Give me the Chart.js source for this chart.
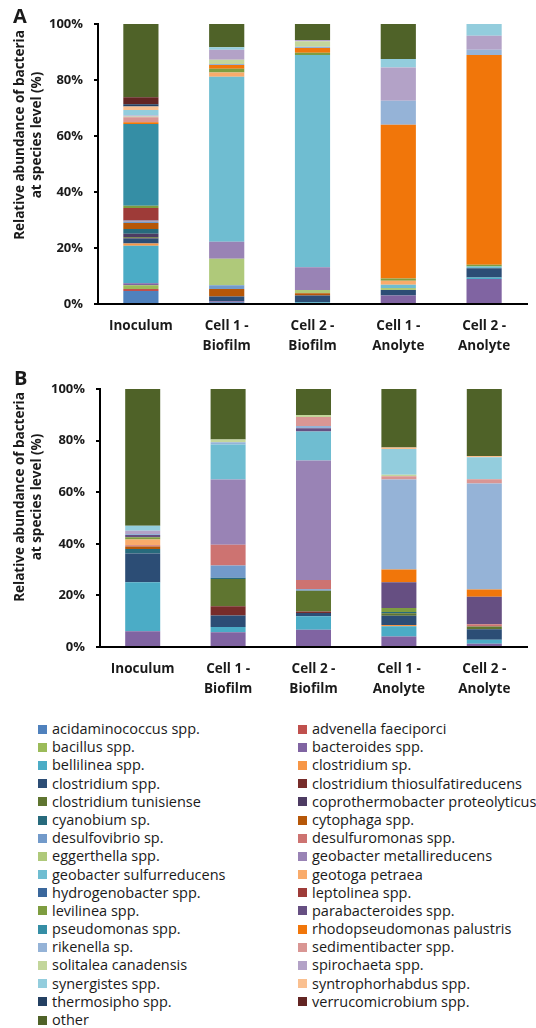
<!DOCTYPE html>
<html>
<head>
<meta charset="utf-8">
<script src="https://cdn.jsdelivr.net/npm/chart.js@4"></script>
<style>
  html, body { margin: 0; padding: 0; background: #fff; }
  body { width: 536px; height: 1028px; position: relative; overflow: hidden; font-family: "Open Sans", "Liberation Sans", sans-serif; color: #1a1a1a; }
  .panel { position: absolute; left: 0; width: 536px; }
  .tag { position: absolute; font-weight: 700; font-size: 20px; line-height: 20px; }
  .ytitle { position: absolute; width: 300px; height: 34px; line-height: 17px; text-align: center; font-weight: 700; font-size: 13.5px; transform: rotate(-90deg); white-space: nowrap; }
  .legend { position: absolute; top: 720px; font-size: 14.5px; }
  .legend .row { height: 18.2px; line-height: 18.2px; white-space: nowrap; position: relative; padding-left: 14px; }
  .legend .sw { position: absolute; left: 0; top: 4.6px; width: 9px; height: 9px; }
</style>
</head>
<body>
<div class="panel" style="top:0;height:360px"><canvas id="chartA" width="536" height="360"></canvas></div>
<div class="panel" style="top:360px;height:340px"><canvas id="chartB" width="536" height="340"></canvas></div>
<div class="tag" style="left:13px;top:6px">A</div>
<div class="tag" style="left:14px;top:368px">B</div>
<div class="ytitle" style="left:-122px;top:118px">Relative abundance of bacteria<br>at species level (%)</div>
<div class="ytitle" style="left:-122px;top:480px">Relative abundance of bacteria<br>at species level (%)</div>
<div class="legend" id="legLeft" style="left:38px"></div>
<div class="legend" id="legRight" style="left:298px"></div>

<script>
// Sample groups on the x axis
const categories = ['Inoculum', ['Cell 1 -', 'Biofilm'], ['Cell 2 -', 'Biofilm'], ['Cell 1 -', 'Anolyte'], ['Cell 2 -', 'Anolyte']];

// Taxa, in stacking order (bottom to top)
const species = [
  'acidaminococcus spp.', 'advenella faeciporci', 'bacillus spp.', 'bacteroides spp.',
  'bellilinea spp.', 'clostridium sp.', 'clostridium spp.', 'clostridium thiosulfatireducens',
  'clostridium tunisiense', 'coprothermobacter proteolyticus', 'cyanobium sp.', 'cytophaga spp.',
  'desulfovibrio sp.', 'desulfuromonas spp.', 'eggerthella spp.', 'geobacter metallireducens',
  'geobacter sulfurreducens', 'geotoga petraea', 'hydrogenobacter spp.', 'leptolinea spp.',
  'levilinea spp.', 'parabacteroides spp.', 'pseudomonas spp.', 'rhodopseudomonas palustris',
  'rikenella sp.', 'sedimentibacter spp.', 'solitalea canadensis', 'spirochaeta spp.',
  'synergistes spp.', 'syntrophorhabdus spp.', 'thermosipho spp.', 'verrucomicrobium spp.', 'other'
];

const speciesColors = [
  '#4F81BD', '#C0504D', '#9BBB59', '#8064A2',
  '#4BACC6', '#F79646', '#2C4D75', '#772C2A',
  '#5F7530', '#4D3B62', '#276A7C', '#B65708',
  '#729ACA', '#CD7371', '#AFC97A', '#9983B5',
  '#6FBDD1', '#F9AB6B', '#3A679C', '#9E3B38',
  '#7E9D40', '#664F82', '#358EA5', '#F1760A',
  '#95B3D7', '#D99694', '#C3D69B', '#B3A2C7',
  '#93CDDD', '#FAC090', '#244062', '#632523', '#4F6228'
];

// Panel A: relative abundance (%) per sample, one value per taxon
const aInoculum      = [4.6, 0.8, 1.3, 0.7, 13.4, 0.8, 1.8, 0.2, 0.2, 1.3, 1.7, 2.1, 0.6, 0.1, 0, 0.1, 0, 0, 0.1, 4.5, 0.8, 0, 29.2, 0.6, 0, 1.8, 0.3, 0.3, 2.0, 1.2, 0.8, 2.5, 26.2];
const aCell1Biofilm  = [0.6, 0, 0, 0.4, 0, 0, 1.7, 0, 0, 0, 0, 2.7, 1.3, 0, 9.5, 6.0, 59.0, 1.5, 0, 0, 1.3, 0, 0, 1.4, 0.3, 0, 1.5, 3.6, 0.9, 0, 0, 0, 8.3];
const aCell2Biofilm  = [0, 0, 0, 0, 0.6, 0, 2.4, 0, 0, 0, 0, 0.8, 0, 0, 1.2, 8.1, 75.8, 0, 0, 0, 0.8, 0, 0, 1.7, 0.5, 0, 1.9, 0.5, 0, 0, 0, 0, 5.7];
const aCell1Anolyte  = [0, 0, 0, 3.0, 0, 0, 2.0, 0, 0, 0, 0, 0, 0, 0, 0.7, 0, 1.2, 1.4, 0, 0, 0.8, 0, 0, 54.9, 8.6, 0, 0, 11.9, 3.0, 0, 0, 0, 12.5];
const aCell2Anolyte  = [0, 0, 0, 8.9, 0.6, 0, 3.3, 0, 0, 0, 0, 0, 0, 0, 0, 0, 0.6, 0, 0, 0, 0.6, 0, 0, 74.9, 1.9, 0, 0, 5.0, 4.2, 0, 0, 0, 0];

// Panel B: relative abundance (%) per sample, one value per taxon
const bInoculum      = [0, 0, 0, 6.1, 19.0, 0, 11.1, 0, 0, 0, 1.8, 1.0, 0, 0.4, 0, 0, 0, 2.3, 0, 0, 0.8, 0.9, 0, 0, 0.4, 0, 0, 1.3, 1.9, 0, 0, 0, 53.0];
const bCell1Biofilm  = [0, 0, 0, 5.7, 2.1, 0, 4.4, 3.6, 10.6, 0, 0.4, 0, 4.8, 8.0, 0, 25.3, 13.6, 0, 0, 0, 0, 0, 0, 0, 0.9, 0, 1.0, 0, 0, 0, 0, 0, 19.6];
const bCell2Biofilm  = [0, 0, 0, 6.7, 5.2, 0, 1.3, 0.6, 8.0, 0, 0, 0, 0.6, 3.6, 0, 46.3, 11.2, 0, 0, 0, 0, 1.3, 0, 0, 0.9, 3.4, 0.8, 0, 0, 0, 0, 0, 10.1];
const bCell1Anolyte  = [0, 0, 0, 4.1, 3.9, 0.5, 3.6, 0, 1.0, 0, 0.5, 0, 0, 0, 0, 0, 0, 0, 0, 0, 1.5, 10.0, 0, 4.9, 34.9, 1.3, 0.6, 0, 9.9, 0.6, 0, 0, 22.7];
const bCell2Anolyte  = [0, 0, 0, 1.3, 1.5, 0, 4.1, 0, 1.0, 0, 0, 0, 0, 0.9, 0, 0, 0, 0, 0, 0, 0, 10.7, 0, 2.8, 41.1, 1.6, 0, 0, 8.5, 0.5, 0, 0, 26.0];

const yTicks = [0, 20, 40, 60, 80, 100];

const panelA = [aInoculum, aCell1Biofilm, aCell2Biofilm, aCell1Anolyte, aCell2Anolyte];
const panelB = [bInoculum, bCell1Biofilm, bCell2Biofilm, bCell1Anolyte, bCell2Anolyte];

const textColor = '#1a1a1a';
const fontFamily = '"Open Sans", "Liberation Sans", sans-serif';

function buildDatasets(samples) {
  return species.map((name, i) => ({
    label: name,
    data: samples.map(s => s[i]),
    backgroundColor: speciesColors[i],
    borderWidth: 0,
    barPercentage: 0.41,
    categoryPercentage: 1.0
  }));
}

function makeChart(canvasId, samples, geom) {
  return new Chart(document.getElementById(canvasId), {
    type: 'bar',
    data: { labels: categories, datasets: buildDatasets(samples) },
    options: {
      responsive: false,
      animation: false,
      layout: { padding: { top: geom.top, right: geom.right, left: 0, bottom: 0 } },
      plugins: { legend: { display: false }, tooltip: { enabled: false } },
      scales: {
        x: {
          stacked: true,
          afterFit: s => { s.height = geom.xHeight; },
          grid: { display: false, drawTicks: false },
          border: { display: true, color: '#000', width: 2 },
          ticks: {
            color: textColor, padding: 12, maxRotation: 0, autoSkip: false,
            font: { family: fontFamily, size: 13.5, weight: 'bold', lineHeight: 1.48 }
          }
        },
        y: {
          stacked: true,
          min: 0, max: 100,
          afterFit: s => { s.width = geom.yWidth; },
          afterBuildTicks: s => { s.ticks = yTicks.map(v => ({ value: v })); },
          grid: { display: true, drawOnChartArea: false, drawTicks: true, tickLength: 4, color: '#000', lineWidth: 2 },
          border: { display: true, color: '#000', width: 2 },
          ticks: {
            color: textColor, padding: 11,
            font: { family: fontFamily, size: 13, weight: 'bold' },
            callback: v => v + '%'
          }
        }
      }
    }
  });
}

makeChart('chartA', panelA, { top: 24, right: 9, xHeight: 56, yWidth: 98 });
makeChart('chartB', panelB, { top: 29, right: 9, xHeight: 53, yWidth: 100 });

// Shared legend, two columns filled row by row
const legLeft = document.getElementById('legLeft');
const legRight = document.getElementById('legRight');
species.forEach((name, i) => {
  const row = document.createElement('div');
  row.className = 'row';
  const sw = document.createElement('span');
  sw.className = 'sw';
  sw.style.background = speciesColors[i];
  row.appendChild(sw);
  row.appendChild(document.createTextNode(name));
  (i % 2 === 0 ? legLeft : legRight).appendChild(row);
});
</script>
</body>
</html>
